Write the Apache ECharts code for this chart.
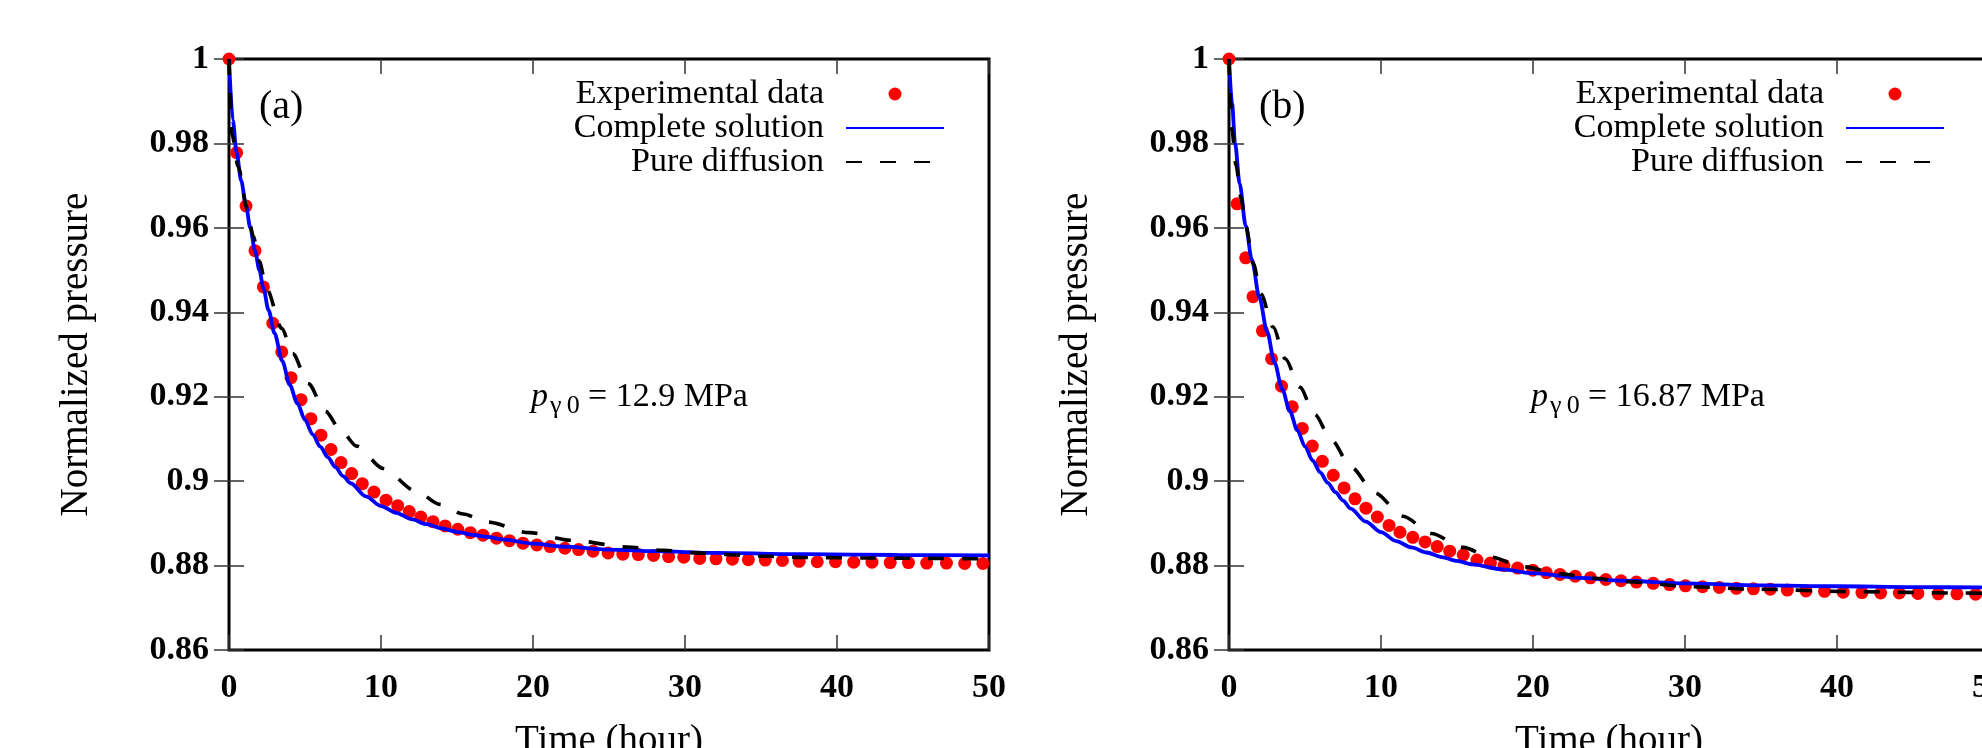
<!DOCTYPE html>
<html><head><meta charset="utf-8">
<script src="https://cdn.jsdelivr.net/npm/echarts@6/dist/echarts.min.js"></script>
<style>html,body{margin:0;padding:0;background:#fff;overflow:hidden}#c{width:1982px;height:748px}</style>
</head><body><div id="c"></div>
<script>
// ---------- data ----------
const seriesNames = ['Experimental data', 'Complete solution', 'Pure diffusion'];
const panelTags = ['(a)', '(b)'];
const panelPressure = ['12.9', '16.87'];
const xTicks = [0, 10, 20, 30, 40, 50];
const yTicks = [0.86, 0.88, 0.9, 0.92, 0.94, 0.96, 0.98, 1];

// panel (a)
const expTimeA = [0, 0.5, 1.12, 1.71, 2.26, 2.88, 3.47, 4.08, 4.74, 5.39, 6.05, 6.71, 7.37, 8.07, 8.77, 9.54, 10.33, 11.1, 11.86, 12.62, 13.42, 14.22, 15.05, 15.88, 16.71, 17.6, 18.45, 19.34, 20.25, 21.13, 22.1, 23.0, 23.95, 24.94, 25.91, 26.93, 27.93, 28.92, 29.92, 30.97, 32.04, 33.12, 34.17, 35.28, 36.41, 37.51, 38.7, 39.9, 41.1, 42.3, 43.5, 44.7, 45.9, 47.2, 48.4, 49.6];
const expPressA = [1.0, 0.9778, 0.9652, 0.9546, 0.946, 0.9374, 0.9306, 0.9245, 0.9193, 0.9148, 0.9109, 0.9075, 0.9044, 0.9018, 0.8994, 0.8974, 0.8955, 0.8942, 0.8928, 0.8915, 0.8904, 0.8894, 0.8886, 0.8878, 0.8872, 0.8865, 0.8859, 0.8853, 0.8849, 0.8845, 0.8841, 0.8838, 0.8834, 0.8830, 0.8827, 0.8826, 0.8824, 0.8821, 0.8820, 0.8817, 0.8816, 0.8815, 0.8814, 0.8813, 0.8812, 0.8810, 0.8809, 0.8809, 0.8808, 0.8808, 0.8807, 0.8807, 0.8806, 0.8806, 0.8805, 0.8805];
const fullTimeA = [0, 0.25, 0.5, 0.8, 1.12, 1.4, 1.71, 2.0, 2.26, 2.6, 3.0, 3.5, 4.0, 4.5, 5.0, 5.5, 6.0, 6.5, 7.0, 7.5, 8.0, 9.0, 10.0, 11.0, 12.0, 13.0, 14.0, 15.0, 16.0, 17.0, 18.0, 20.0, 22.0, 25.0, 28.0, 32.0, 38.0, 44.0, 50.0];
const fullPressA = [1.0, 0.9855, 0.9778, 0.9712, 0.9652, 0.96, 0.9546, 0.95, 0.9458, 0.9405, 0.935, 0.9285, 0.9228, 0.9184, 0.9145, 0.9111, 0.9082, 0.9057, 0.9033, 0.9012, 0.8995, 0.8964, 0.8941, 0.8925, 0.8910, 0.8898, 0.8888, 0.8880, 0.8873, 0.8868, 0.8862, 0.8852, 0.8845, 0.8838, 0.8834, 0.8830, 0.8827, 0.8825, 0.8824];
const diffTimeA = [0, 0.07, 0.18, 0.6, 1.2, 1.6, 2.0, 2.48, 3.47, 4.19, 5.22, 6.32, 7.4, 8.4, 10.15, 12.24, 13.88, 15.4, 17.0, 19.75, 22.5, 26.2, 28.6, 30.8, 33.3, 35.5, 38.0, 42.0, 46.0, 50.0];
const diffPressA = [1.0, 0.9923, 0.9824, 0.9745, 0.9645, 0.958, 0.952, 0.9455, 0.9362, 0.9302, 0.9231, 0.9166, 0.9118, 0.9083, 0.903, 0.8978, 0.8945, 0.8922, 0.8903, 0.8878, 0.886, 0.8844, 0.8836, 0.883, 0.8825, 0.8822, 0.8819, 0.8818, 0.8817, 0.8816];

// panel (b)
const expTimeB = [0, 0.53, 1.1, 1.58, 2.2, 2.8, 3.45, 4.16, 4.82, 5.48, 6.14, 6.86, 7.57, 8.29, 9.01, 9.76, 10.53, 11.25, 12.09, 12.9, 13.7, 14.52, 15.41, 16.31, 17.2, 18.09, 18.99, 19.99, 20.88, 21.77, 22.78, 23.78, 24.79, 25.79, 26.8, 27.91, 28.98, 30.03, 31.15, 32.26, 33.38, 34.5, 35.61, 36.73, 37.96, 39.18, 40.41, 41.64, 42.87, 44.1, 45.32, 46.66, 47.89, 49.12];
const expPressB = [1.0, 0.9657, 0.9529, 0.9437, 0.9356, 0.929, 0.9225, 0.9176, 0.9125, 0.9083, 0.9047, 0.9014, 0.8984, 0.8958, 0.8936, 0.8915, 0.8895, 0.8879, 0.8867, 0.8856, 0.8845, 0.8834, 0.8825, 0.8813, 0.8806, 0.880, 0.8794, 0.8789, 0.8783, 0.8779, 0.8775, 0.8771, 0.8767, 0.8764, 0.8761, 0.8758, 0.8755, 0.8752, 0.875, 0.8748, 0.8746, 0.8745, 0.8744, 0.8742, 0.874, 0.8739, 0.8737, 0.8736, 0.8735, 0.8735, 0.8734, 0.8733, 0.8733, 0.8732];
const fullTimeB = [0, 0.2, 0.4, 0.7, 1.1, 1.5, 2.0, 2.5, 3.0, 3.5, 4.0, 4.5, 5.0, 5.5, 6.0, 6.5, 7.0, 7.5, 8.0, 9.0, 10.0, 11.0, 12.0, 13.0, 14.0, 15.0, 16.0, 18.0, 20.0, 23.0, 26.0, 30.0, 35.0, 40.0, 45.0, 50.0];
const fullPressB = [1.0, 0.9895, 0.98, 0.9705, 0.9605, 0.9525, 0.9435, 0.9355, 0.928, 0.9218, 0.9166, 0.912, 0.9082, 0.9049, 0.9021, 0.8996, 0.8974, 0.8954, 0.8935, 0.8904, 0.8879, 0.8858, 0.8843, 0.8831, 0.882, 0.8811, 0.8803, 0.8791, 0.8782, 0.8771, 0.8764, 0.8758, 0.8753, 0.8751, 0.8749, 0.8748];
const diffTimeB = [0, 0.1, 0.2, 0.45, 0.8, 1.1, 1.6, 2.1, 2.9, 3.7, 4.65, 5.64, 6.74, 8.05, 9.59, 11.45, 13.3, 15.4, 17.2, 19.4, 21.7, 24.0, 26.1, 30.4, 34.6, 41.3, 48.0, 50.0];
const diffPressB = [1.0, 0.990, 0.983, 0.975, 0.967, 0.9605, 0.9515, 0.9443, 0.9365, 0.929, 0.9223, 0.9158, 0.9097, 0.9032, 0.8972, 0.8917, 0.8876, 0.8843, 0.882, 0.8797, 0.8781, 0.877, 0.8762, 0.875, 0.8744, 0.8738, 0.8735, 0.8734];

// ---------- build ----------
const SERIF = 'Liberation Serif';
const zip = (a, b) => a.map((v, i) => [v, b[i]]);
const panels = [
  {exp: zip(expTimeA, expPressA), full: zip(fullTimeA, fullPressA), diff: zip(diffTimeA, diffPressA)},
  {exp: zip(expTimeB, expPressB), full: zip(fullTimeB, fullPressB), diff: zip(diffTimeB, diffPressB)}
];
const gridLefts = [229, 1229];
const W = 1982;

const grid = [], xAxis = [], yAxis = [], series = [], legend = [], graphic = [];
const tickStyle = {inside: true, length: 15, lineStyle: {color: '#333', width: 1.5}};
const labelStyle = {fontFamily: SERIF, fontWeight: 'bold', fontSize: 34, color: '#000'};
const yFmt = v => String(+(+v).toFixed(2));
const txt = (x, y, text, font) => ({type: 'text', x, y, silent: true,
  style: {text, font, fill: '#000', align: 'left', verticalAlign: 'middle'}});

panels.forEach((p, i) => {
  const L = gridLefts[i];
  grid.push({left: L, top: 59, width: 760, height: 591, outerBoundsMode: 'none', containLabel: false,
    show: true, borderWidth: 3, borderColor: '#000', backgroundColor: 'transparent'});
  const xBase = {type: 'value', gridIndex: i, min: xTicks[0], max: xTicks[xTicks.length - 1], interval: xTicks[1] - xTicks[0], splitLine: {show: false}, axisLine: {show: false}, axisTick: tickStyle};
  const yBase = {type: 'value', gridIndex: i, min: yTicks[0], max: yTicks[yTicks.length - 1], interval: 0.02, splitLine: {show: false}, axisLine: {show: false}, axisTick: tickStyle};
  xAxis.push(Object.assign({}, xBase, {position: 'bottom', axisLabel: Object.assign({margin: 21}, labelStyle),
    name: 'Time (hour)', nameLocation: 'middle', nameGap: 72, nameMoveOverlap: false,
    nameTextStyle: {fontFamily: SERIF, fontSize: 39, color: '#000'}}));
  xAxis.push(Object.assign({}, xBase, {position: 'top', axisLabel: {show: false}}));
  yAxis.push(Object.assign({}, yBase, {position: 'left', axisLabel: Object.assign({margin: 20, formatter: yFmt}, labelStyle),
    name: 'Normalized pressure', nameLocation: 'middle', nameGap: 133, nameMoveOverlap: false,
    nameTextStyle: {fontFamily: SERIF, fontSize: 39, color: '#000'}}));
  yAxis.push(Object.assign({}, yBase, {position: 'right', axisLabel: {show: false}}));
  const xi = i * 2, yi = i * 2;
  series.push({name: seriesNames[0], type: 'scatter', xAxisIndex: xi, yAxisIndex: yi, data: p.exp, symbol: 'circle', symbolSize: 13,
    itemStyle: {color: '#ff0000', opacity: 1}, clip: false, z: 2, silent: true});
  series.push({name: seriesNames[1], type: 'line', xAxisIndex: xi, yAxisIndex: yi, data: p.full, showSymbol: false, symbol: 'none',
    smooth: 0.3, smoothMonotone: 'x', lineStyle: {color: '#0000ff', width: 3.8}, itemStyle: {color: '#0000ff'}, clip: false, z: 3, silent: true});
  series.push({name: seriesNames[2], type: 'line', xAxisIndex: xi, yAxisIndex: yi, data: p.diff, showSymbol: false, symbol: 'none',
    smooth: 0.3, smoothMonotone: 'x', lineStyle: {color: '#000', width: 3.6, type: [16, 18]}, itemStyle: {color: '#000'}, clip: false, z: 4, silent: true});
  legend.push({orient: 'vertical', right: W - (L + 721), top: 72, align: 'right', itemWidth: 98, itemHeight: 13, itemGap: 0,
    selectedMode: false,
    formatter: name => name + '\u2002',
    textStyle: {fontFamily: SERIF, fontSize: 34, color: '#000'},
    data: [{name: seriesNames[0], icon: 'circle'},
           {name: seriesNames[1], itemStyle: {opacity: 0}},
           {name: seriesNames[2], itemStyle: {opacity: 0}}]});
  graphic.push(txt(L + 30, 107, panelTags[i], "40px 'Liberation Serif'"));
  graphic.push(txt(L + 302, 397, 'p', "italic 34px 'Liberation Serif'"));
  graphic.push(txt(L + 321, 406, 'γ\u20090', "26px 'Liberation Serif'"));
  graphic.push(txt(L + 359, 397, '= ' + panelPressure[i] + ' MPa', "34px 'Liberation Serif'"));
});

const chart = echarts.init(document.getElementById('c'), null, {renderer: 'canvas'});
chart.setOption({animation: false, backgroundColor: '#fff', grid, xAxis, yAxis, series, legend, graphic});
</script></body></html>
